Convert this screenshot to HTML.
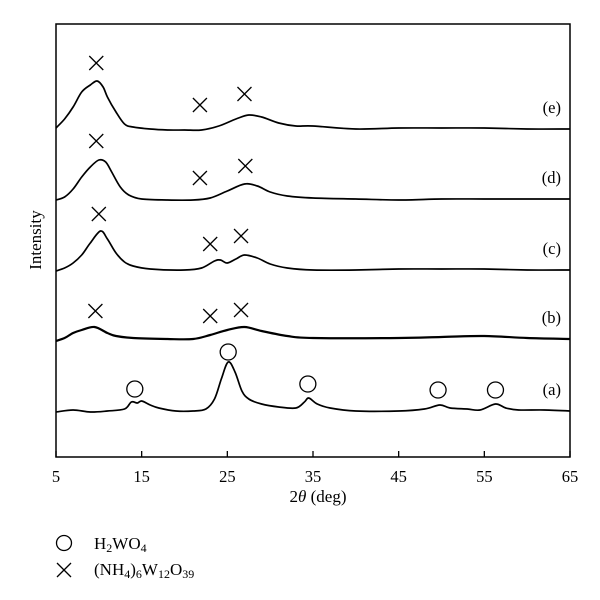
<!DOCTYPE html>
<html><head><meta charset="utf-8"><style>
body{margin:0;background:#fff}
svg{display:block;font-family:"Liberation Serif",serif}
</style></head><body>
<svg id="chart" width="600" height="600" viewBox="0 0 600 600">
<rect x="56" y="24" width="514" height="433" fill="none" stroke="#000" stroke-width="1.5"/>
<g id="ticks"></g>
<g id="series"></g>
<g id="markers"></g>
<text x="0" y="0" transform="translate(41,240) rotate(-90)" text-anchor="middle" font-size="17">Intensity</text>
<text x="318" y="502" text-anchor="middle" font-size="17">2<tspan font-style="italic">θ</tspan> (deg)</text>
<g>
<circle cx="64" cy="543" r="7.5" fill="none" stroke="#000" stroke-width="1.3"/>
<text x="94" y="549" font-size="17">H<tspan font-size="12" dy="3">2</tspan><tspan dy="-3">WO</tspan><tspan font-size="12" dy="3">4</tspan></text>
<path d="M57,563 L71,577 M71,563 L57,577" stroke="#000" stroke-width="1.3"/>
<text x="94" y="575" font-size="17">(NH<tspan font-size="12" dy="3">4</tspan><tspan dy="-3">)</tspan><tspan font-size="12" dy="3">6</tspan><tspan dy="-3">W</tspan><tspan font-size="12" dy="3">12</tspan><tspan dy="-3">O</tspan><tspan font-size="12" dy="3">39</tspan></text>
</g>
</svg>
<script>
const xTicks=[5,15,25,35,45,55,65];
const seriesLabels=["(a)","(b)","(c)","(d)","(e)"];
const xA=[5,7,9,11,13,13.8,14.5,15,16,17,19,21,22.5,23.5,24.3,25.1,25.9,26.7,27.5,29,31,33,34,34.5,35.5,37,40,45,48,49.8,51,53,54.5,56.3,57.5,59,62,65];
const yA=[45,47,45,46,48,55,54,56,52,49,46,46,48,58,78,95,85,66,58,53,50,49,55,59,53,49,46,46,48,52,49,48,47,53,49,47,47,46];
const xB=[5,6,7,8,9.5,11,12,14,18,21,23,25,27,29,32,35,45,50,55,60,65];
const yB=[116,119,124,127,130,124,121,119,118,118,122,127,130,126,121,119,119,120,121,119,118];
const xC=[5,6,7,8,9,10.2,11,12,13,14,16,20,22,23.5,24.2,25,26,27,28.5,30,32,35,40,45,50,55,60,65];
const yC=[186,189,194,202,214,226,218,204,195,191,188,187,189,196,197,194,198,202,199,193,189,187,187,188,188,188,187,187];
const xD=[5,6,7,8,9,10,10.8,11.5,12.5,13.5,15,18,21,23,25,27,28.5,30,32,35,40,45,50,55,60,65];
const yD=[257,260,268,280,290,297,295,285,270,262,258,257,257,259,266,273,271,265,261,259,258,257,258,258,258,258];
const xE=[5,6,7,8,9,9.8,10.5,11,12,13,14,16,18,20,22,24,26,27.5,29,31,33,35,40,45,50,55,60,65];
const yE=[329,338,350,365,372,376,370,360,345,333,330,328,327,327,327,331,338,342,340,334,331,331,328,329,329,329,328,328];
const circleX=[14.2,25.1,34.4,49.6,56.3];
const circleI=[68,105,73,67,67];
const crossX=[9.7,21.8,27.0, 9.7,21.8,27.1, 10.0,23.0,26.6, 9.6,23.0,26.6];
const crossI=[394,352,363, 316,279,291, 243,213,221, 146,141,147];
const X0=56,X1=570,YB=457;
const sx=v=>X0+(v-5)/60*(X1-X0);
const sy=v=>YB-v;
const NS="http://www.w3.org/2000/svg";
const tg=document.getElementById('ticks');
xTicks.forEach(t=>{
 const l=document.createElementNS(NS,'line');
 
 
 l.setAttribute('x1',sx(t));l.setAttribute('x2',sx(t));l.setAttribute('y1',YB);l.setAttribute('y2',YB-6);
 l.setAttribute('stroke','#000');l.setAttribute('stroke-width','1.3');tg.appendChild(l);
 const tx=document.createElementNS(NS,'text');
 
 
 tx.setAttribute('x',sx(t));tx.setAttribute('y',482);tx.setAttribute('text-anchor','middle');tx.setAttribute('font-size','16.5');
 tx.textContent=t;tg.appendChild(tx);
});
function smooth(pts){
 let d='M'+pts[0][0].toFixed(1)+','+pts[0][1].toFixed(1);
 for(let i=0;i<pts.length-1;i++){
  const p0=pts[i-1]||pts[i],p1=pts[i],p2=pts[i+1],p3=pts[i+2]||p2;
  const c1x=p1[0]+(p2[0]-p0[0])/6,c1y=p1[1]+(p2[1]-p0[1])/6;
  const c2x=p2[0]-(p3[0]-p1[0])/6,c2y=p2[1]-(p3[1]-p1[1])/6;
  d+=`C${c1x.toFixed(1)},${c1y.toFixed(1)} ${c2x.toFixed(1)},${c2y.toFixed(1)} ${p2[0].toFixed(1)},${p2[1].toFixed(1)}`;
 }
 return d;
}
const sg=document.getElementById('series');
const all=[[xA,yA],[xB,yB],[xC,yC],[xD,yD],[xE,yE]];
all.forEach((s,i)=>{
 const p=document.createElementNS(NS,'path');
 
 
 p.setAttribute('d',smooth(s[0].map((x,j)=>[sx(x),sy(s[1][j])])));
 p.setAttribute('fill','none');p.setAttribute('stroke','#000');p.setAttribute('stroke-width',i==1?'2.2':'1.7');p.setAttribute('stroke-linejoin','round');
 sg.appendChild(p);
 const lb=document.createElementNS(NS,'text');
 
 
 lb.setAttribute('x',561);lb.setAttribute('y',sy(s[1][s[1].length-1])-16);lb.setAttribute('text-anchor','end');lb.setAttribute('font-size','16.5');
 lb.textContent=seriesLabels[i];sg.appendChild(lb);
});
const mg=document.getElementById('markers');
circleX.forEach((x,i)=>{
 const c=document.createElementNS(NS,'circle');
 
 
 c.setAttribute('cx',sx(x));c.setAttribute('cy',sy(circleI[i]));c.setAttribute('r',8);
 c.setAttribute('fill','none');c.setAttribute('stroke','#000');c.setAttribute('stroke-width','1.3');mg.appendChild(c);
});
crossX.forEach((x,i)=>{
 const cx=sx(x),cy=sy(crossI[i]);
 const p=document.createElementNS(NS,'path');
 
 
 p.setAttribute('d',`M${cx-7},${cy-7}L${cx+7},${cy+7}M${cx+7},${cy-7}L${cx-7},${cy+7}`);
 p.setAttribute('stroke','#000');p.setAttribute('stroke-width','1.3');mg.appendChild(p);
});
</script>
</body></html>
